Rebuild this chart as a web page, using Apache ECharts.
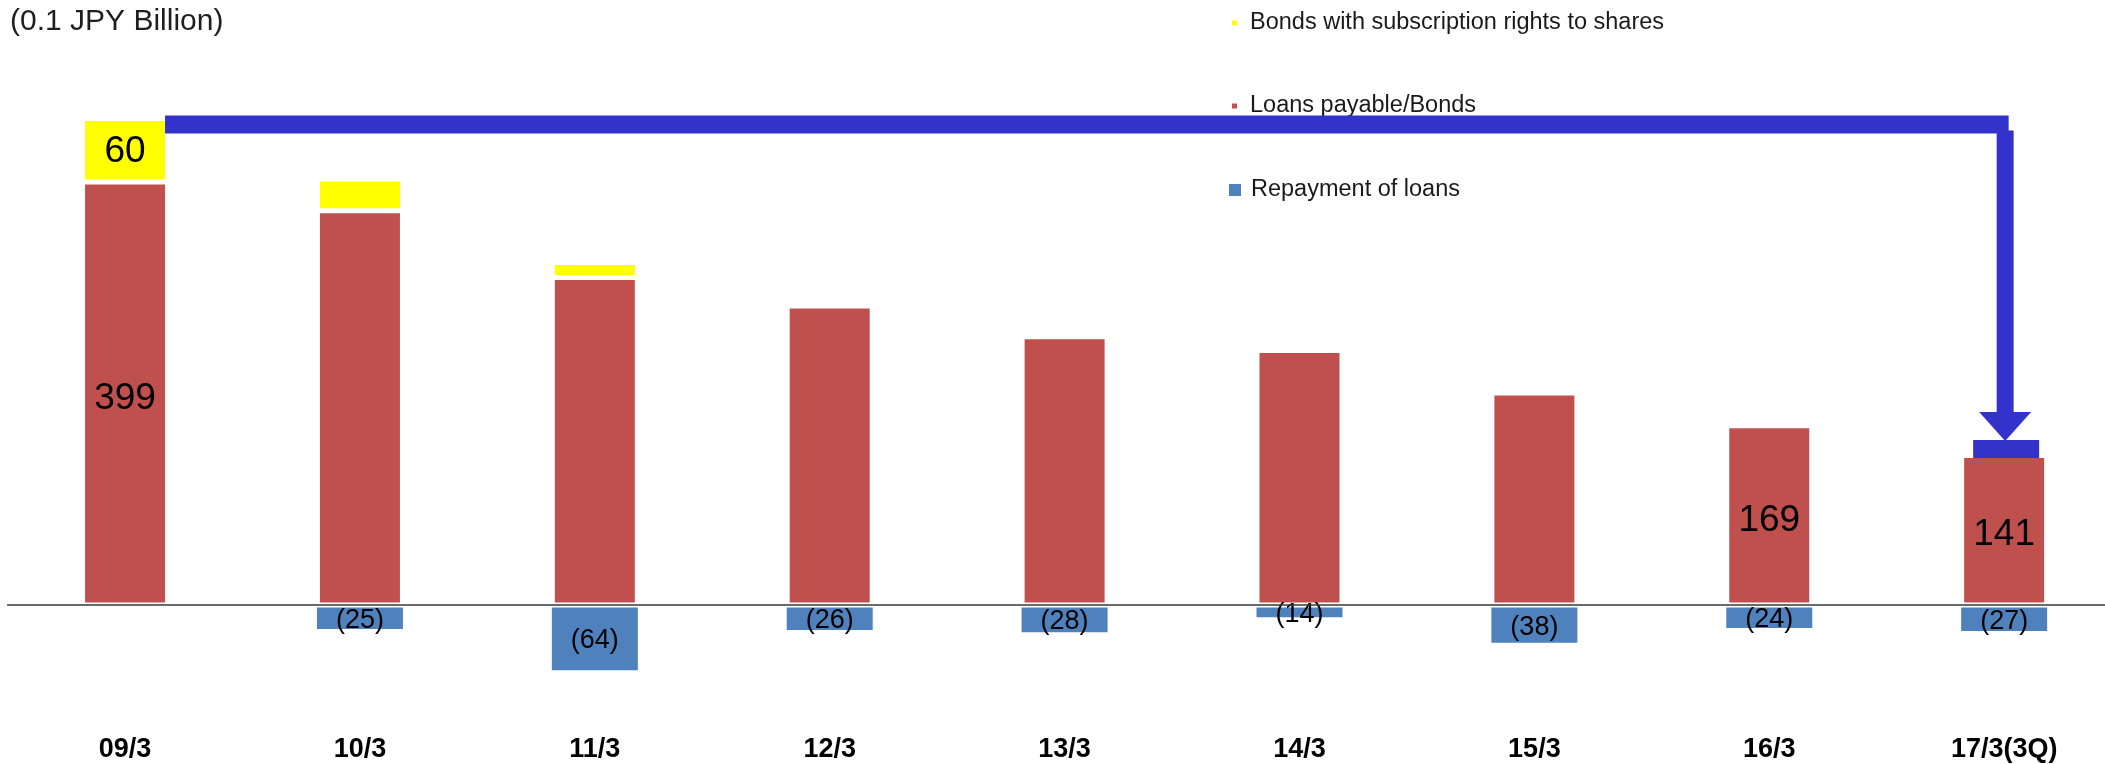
<!DOCTYPE html>
<html>
<head>
<meta charset="utf-8">
<title>Loans payable / Bonds</title>
<script src="https://cdn.jsdelivr.net/npm/echarts@6.0.0/dist/echarts.min.js"></script>
<style>
  html, body { margin: 0; padding: 0; background: #fff; }
  #chart { width: 2105px; height: 764px; }
</style>
</head>
<body>
<div id="chart"></div>
<script>
// Fiscal year-ends (unit: 0.1 JPY billion)
const categories = ['09/3', '10/3', '11/3', '12/3', '13/3', '14/3', '15/3', '16/3', '17/3(3Q)'];
const loansBonds = [399, 372, 309, 282, 253, 240, 200, 169, 141];
const bondsWithRights = [60, 30, 14, null, null, null, null, null, null];
const repayment = [null, -25, -64, -26, -28, -14, -38, -24, -27];
// which bars carry a value label
const loanLabelIdx = [0, 7, 8];
const bondLabelIdx = [0];

const FONT = "'Liberation Sans', Arial, Helvetica, sans-serif";
const RED = '#C0504D', YELLOW = '#FFFF00', BLUE = '#4F81BD', ARROW = '#3333CC';
const BORDER = 2.5;          // white outline, drawn inside each bar
const RED_W = 85, BLUE_W = 91;

const chart = echarts.init(document.getElementById('chart'), null, { renderer: 'canvas' });

function withLabels(values, idx) {
  return values.map((v, i) => ({
    value: v,
    label: { show: idx.indexOf(i) >= 0 }
  }));
}

const bigLabel = {
  position: 'inside',
  offset: [0, 5],
  color: '#000',
  fontSize: 37,
  fontFamily: FONT
};

const option = {
  animation: false,
  backgroundColor: '#fff',
  title: {
    text: '(0.1 JPY Billion)',
    left: 10,
    top: 7,
    padding: 0,
    textStyle: { fontSize: 30, fontWeight: 'normal', color: '#1f1f1f', fontFamily: FONT }
  },
  legend: [
    {
      data: ['Bonds with subscription rights to shares'],
      left: 1230, top: 11, padding: 0, selectedMode: false,
      icon: 'rect', itemWidth: 7, itemHeight: 7,
      textStyle: { fontSize: 23.5, color: '#1a1a1a', fontFamily: FONT, padding: [0, 0, 0, 7] }
    },
    {
      data: ['Loans payable/Bonds'],
      left: 1230, top: 94, padding: 0, selectedMode: false,
      icon: 'rect', itemWidth: 7, itemHeight: 7,
      textStyle: { fontSize: 23.5, color: '#1a1a1a', fontFamily: FONT, padding: [0, 0, 0, 7] }
    },
    {
      data: ['Repayment of loans'],
      left: 1227, top: 178, padding: 0, selectedMode: false,
      icon: 'rect', itemWidth: 14, itemHeight: 14,
      textStyle: { fontSize: 23.5, color: '#1a1a1a', fontFamily: FONT, padding: [0, 0, 0, 4] }
    }
  ],
  grid: {
    left: 7.6,
    top: 53.8,
    width: 2114,
    height: 699.6,
    outerBoundsMode: 'none'
  },
  xAxis: [
    {
      // zero line through the bars
      type: 'category',
      data: categories,
      z: 10,
      axisTick: { show: false },
      axisLine: { show: true, onZero: true, lineStyle: { color: '#3a3a3a', width: 1.5 } },
      axisLabel: { show: false },
      splitLine: { show: false }
    },
    {
      // period labels along the bottom
      type: 'category',
      data: categories,
      position: 'bottom',
      axisTick: { show: false },
      axisLine: { show: false, onZero: false },
      axisLabel: { show: true, margin: -17, fontSize: 27, fontWeight: 'bold', color: '#000', fontFamily: FONT },
      splitLine: { show: false }
    }
  ],
  yAxis: {
    type: 'value',
    min: -140,
    max: 520,
    show: false,
    splitLine: { show: false }
  },
  series: [
    {
      name: 'Loans payable/Bonds',
      type: 'bar',
      stack: 'debt',
      xAxisIndex: 0,
      barWidth: RED_W,
      itemStyle: { color: RED, borderColor: '#fff', borderWidth: BORDER },
      label: bigLabel,
      data: withLabels(loansBonds, loanLabelIdx)
    },
    {
      name: 'Bonds with subscription rights to shares',
      type: 'bar',
      stack: 'debt',
      xAxisIndex: 0,
      barWidth: RED_W,
      itemStyle: { color: YELLOW, borderColor: '#fff', borderWidth: BORDER },
      label: Object.assign({}, bigLabel, { offset: [0, 2] }),
      data: withLabels(bondsWithRights, bondLabelIdx)
    },
    {
      name: 'Repayment of loans',
      type: 'bar',
      xAxisIndex: 1,
      barWidth: BLUE_W,
      itemStyle: { color: BLUE, borderColor: '#fff', borderWidth: BORDER },
      label: {
        show: true,
        position: 'inside',
        offset: [0, 2],
        color: '#000',
        fontSize: 27,
        fontFamily: FONT,
        formatter: p => '(' + Math.abs(p.value) + ')'
      },
      data: repayment
    }
  ]
};

chart.setOption(option);

// Arrow from the first year's total down onto the latest bar
function drawArrow() {
  const first = 0, last = categories.length - 1;
  const firstTotal = loansBonds[first] + (bondsWithRights[first] || 0);
  const pFirst = chart.convertToPixel({ xAxisIndex: 0, yAxisIndex: 0 }, [first, firstTotal]);
  const pLast = chart.convertToPixel({ xAxisIndex: 0, yAxisIndex: 0 }, [last, loansBonds[last]]);
  const half = RED_W / 2 - BORDER;
  const thick = 18;
  const yTop = pFirst[1] - 3;
  const shaftW = 17;
  const shaftX = pLast[0] - shaftW / 2 + 1;
  const flatBottom = pLast[1] + BORDER;
  const flatTop = flatBottom - thick;
  const headBase = flatTop - 28;
  const headHalf = 26;
  chart.setOption({
    graphic: [
      {
        type: 'rect', z: 20,
        shape: { x: pFirst[0] + half, y: yTop, width: shaftX + shaftW - (pFirst[0] + half) - 5, height: thick },
        style: { fill: ARROW }
      },
      {
        type: 'rect', z: 20,
        shape: { x: shaftX, y: yTop + 15, width: shaftW, height: headBase - yTop - 15 + 1 },
        style: { fill: ARROW }
      },
      {
        type: 'polygon', z: 20,
        shape: { points: [[pLast[0] - headHalf + 1, headBase], [pLast[0] + headHalf + 1, headBase], [pLast[0] + 1, flatTop + 1]] },
        style: { fill: ARROW }
      },
      {
        type: 'rect', z: 20,
        shape: { x: pLast[0] - 31, y: flatTop, width: 66, height: thick },
        style: { fill: ARROW }
      }
    ]
  });
}
drawArrow();
</script>
</body>
</html>
